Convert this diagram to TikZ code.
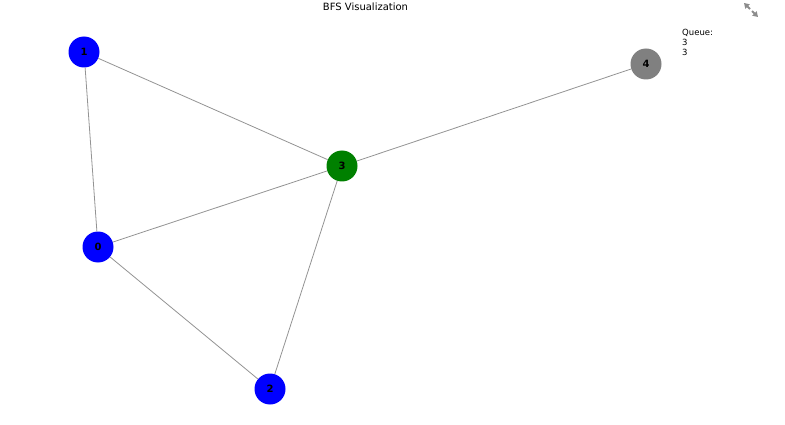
\documentclass[tikz,border=0pt]{standalone}
\usepackage{fontspec}
\setmainfont{DejaVu Sans}
\usetikzlibrary{arrows.meta}
\tikzset{
vertex/.style={circle, draw=none, minimum size=31pt, inner sep=0pt, font=\bfseries\fontsize{10}{10}\selectfont},
visited/.style={vertex, fill=blue},
current/.style={vertex, fill=green!50!black},
unseen/.style={vertex, fill=gray},
edge/.style={draw=gray!85, line width=0.8pt},
expand/.style={draw=gray!90, line width=1.8pt, -{Triangle[length=5pt,width=6pt]}},
}
\begin{document}
\begin{tikzpicture}[x=1pt, y=-1pt]
\useasboundingbox (0,0) rectangle (785,425);

\node[font=\fontsize{10}{10}\selectfont] (title) at (365.5,7) {BFS Visualization};

% graph vertices
\node[visited] (v1) at (84,52) {1};
\node[visited] (v0) at (98,247) {0};
\node[visited] (v2) at (270,389) {2};
\node[current] (v3) at (342,166) {3};
\node[unseen] (v4) at (646,64) {4};

% edges
\foreach \a/\b in {v1/v3, v1/v0, v0/v3, v0/v2, v2/v3, v3/v4}
  \draw[edge] (\a) -- (\b);

% queue contents
\node[anchor=north west, align=left, inner sep=0pt, font=\fontsize{8.5}{10}\selectfont] (queue) at (682,29) {Queue:\\3\\3};

% expand icon
\coordinate (icc) at (751,10);
\draw[expand] (icc) ++(-1,-1) -- ++(-6,-6);
\draw[expand] (icc) ++(1,1) -- ++(6,6);

\end{tikzpicture}
\end{document}
